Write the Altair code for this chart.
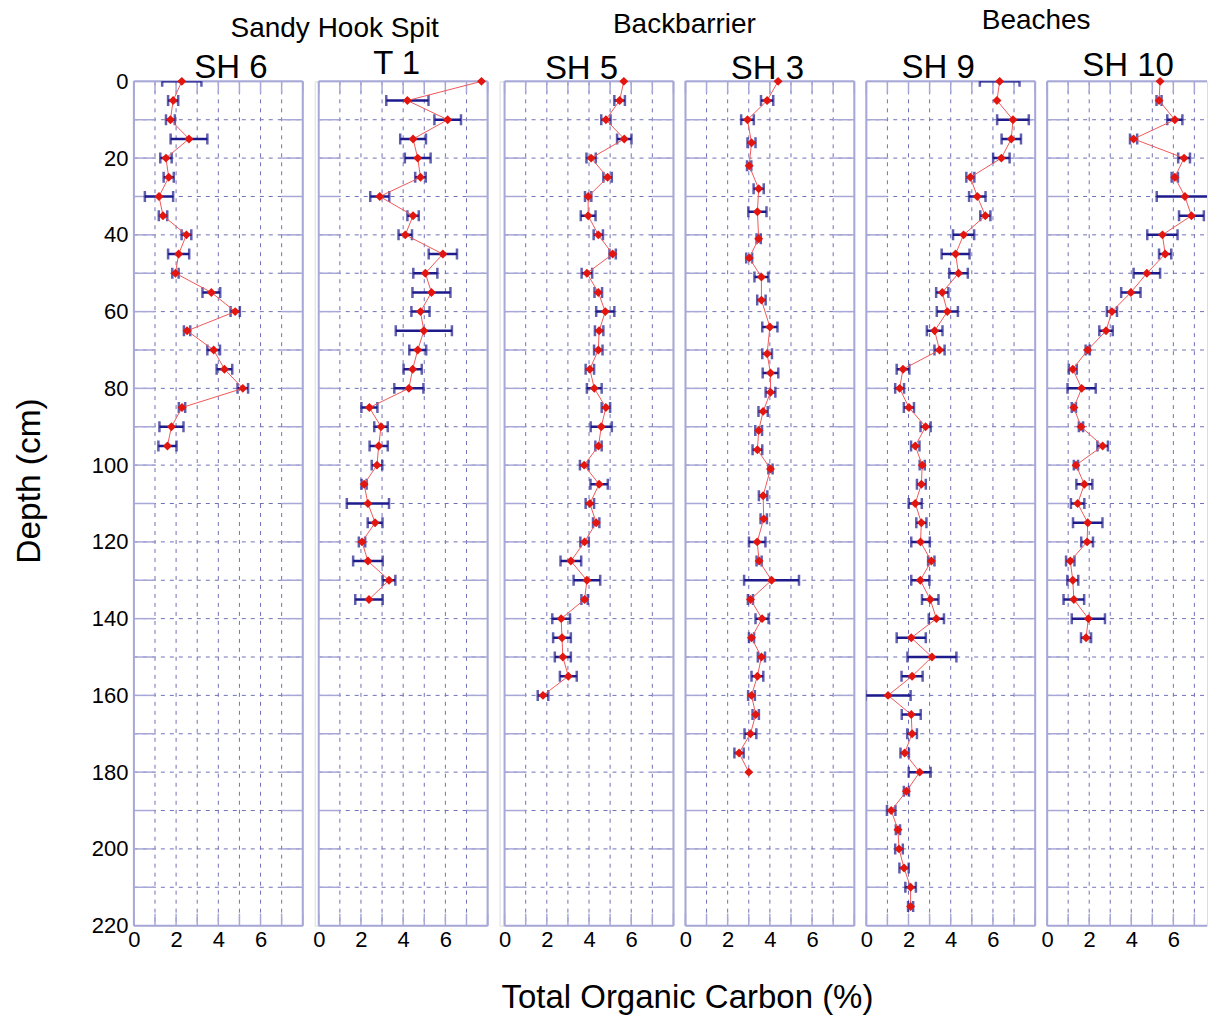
import altair as alt
import pandas as pd

# ---- Total organic carbon (%) down each core, with +/- spread -------------
sh6_depth = list(range(0, 100, 5))
sh6_toc = [2.27, 1.86, 1.73, 2.61, 1.52, 1.65, 1.19, 1.38, 2.49, 2.12,
           1.97, 3.67, 4.80, 2.52, 3.78, 4.29, 5.16, 2.28, 1.78, 1.59]
sh6_err = [0.93, 0.24, 0.21, 0.87, 0.27, 0.24, 0.67, 0.20, 0.23, 0.50,
           0.15, 0.42, 0.22, 0.15, 0.30, 0.37, 0.25, 0.15, 0.57, 0.43]

t1_depth = list(range(0, 140, 5))
t1_toc = [7.71, 4.20, 6.11, 4.47, 4.69, 4.82, 2.89, 4.47, 4.10, 5.88,
          5.05, 5.34, 4.82, 4.98, 4.69, 4.45, 4.27, 2.40, 2.95, 2.84,
          2.76, 2.15, 2.33, 2.67, 2.05, 2.33, 3.33, 2.38]
t1_err = [0.00, 1.00, 0.63, 0.61, 0.61, 0.25, 0.45, 0.27, 0.32, 0.67,
          0.57, 0.90, 0.43, 1.33, 0.40, 0.43, 0.69, 0.38, 0.32, 0.43,
          0.25, 0.12, 1.00, 0.35, 0.15, 0.70, 0.30, 0.65]

sh5_depth = list(range(0, 165, 5))
sh5_toc = [5.65, 5.45, 4.80, 5.67, 4.10, 4.88, 3.96, 3.96, 4.44, 5.12,
           3.90, 4.44, 4.77, 4.48, 4.44, 4.04, 4.25, 4.80, 4.58, 4.45,
           3.77, 4.48, 4.04, 4.34, 3.79, 3.14, 3.90, 3.79, 2.68, 2.72,
           2.76, 3.02, 1.82]
sh5_err = [0.00, 0.25, 0.22, 0.34, 0.22, 0.20, 0.15, 0.35, 0.22, 0.15,
           0.25, 0.18, 0.43, 0.20, 0.20, 0.20, 0.35, 0.20, 0.50, 0.15,
           0.20, 0.41, 0.20, 0.15, 0.20, 0.49, 0.63, 0.15, 0.42, 0.42,
           0.38, 0.40, 0.25]

sh3_depth = [0, 5, 10, 16, 22, 28, 34, 41, 46, 51, 57, 64, 71, 76, 81, 86, 91,
             96, 101, 108, 114, 120, 125, 130, 135, 140, 145, 150, 155, 160,
             165, 170, 175, 180]
sh3_toc = [4.39, 3.87, 2.94, 3.13, 3.02, 3.47, 3.41, 3.47, 3.02, 3.60,
           3.60, 4.00, 3.87, 4.03, 4.03, 3.68, 3.47, 3.41, 4.03, 3.68,
           3.71, 3.40, 3.49, 4.08, 3.08, 3.63, 3.13, 3.60, 3.41, 3.13,
           3.33, 3.08, 2.54, 3.00]
sh3_err = [0.00, 0.29, 0.30, 0.19, 0.10, 0.24, 0.43, 0.10, 0.14, 0.33,
           0.20, 0.36, 0.23, 0.37, 0.23, 0.22, 0.16, 0.23, 0.10, 0.20,
           0.15, 0.39, 0.12, 1.30, 0.12, 0.31, 0.12, 0.17, 0.28, 0.16,
           0.15, 0.28, 0.22, 0.00]

sh9_depth = list(range(0, 220, 5))
sh9_toc = [6.32, 6.19, 6.95, 6.87, 6.40, 4.93, 5.26, 5.64, 4.61, 4.23,
           4.37, 3.60, 3.84, 3.24, 3.47, 1.74, 1.58, 2.02, 2.81, 2.32,
           2.65, 2.61, 2.32, 2.61, 2.57, 3.08, 2.56, 3.03, 3.32, 2.13,
           3.11, 2.17, 1.03, 2.13, 2.17, 1.82, 2.53, 1.90, 1.18, 1.50,
           1.55, 1.79, 2.10, 2.10]
sh9_err = [0.94, 0.00, 0.75, 0.46, 0.39, 0.19, 0.39, 0.24, 0.50, 0.66,
           0.44, 0.29, 0.50, 0.37, 0.24, 0.30, 0.21, 0.24, 0.24, 0.20,
           0.12, 0.21, 0.31, 0.24, 0.44, 0.15, 0.43, 0.39, 0.36, 0.69,
           1.16, 0.50, 1.07, 0.45, 0.23, 0.20, 0.52, 0.12, 0.20, 0.10,
           0.18, 0.22, 0.25, 0.12]

sh10_depth = list(range(0, 150, 5))
sh10_toc = [5.37, 5.32, 6.07, 4.11, 6.51, 6.07, 6.55, 6.86, 5.48, 5.61,
            4.74, 3.98, 3.08, 2.80, 1.93, 1.22, 1.64, 1.27, 1.61, 2.64,
            1.37, 1.77, 1.45, 1.93, 1.90, 1.10, 1.22, 1.27, 1.96, 1.85]
sh10_err = [0.00, 0.12, 0.36, 0.17, 0.28, 0.15, 1.34, 0.59, 0.72, 0.29,
            0.63, 0.46, 0.24, 0.32, 0.10, 0.19, 0.67, 0.10, 0.10, 0.25,
            0.10, 0.38, 0.32, 0.70, 0.28, 0.20, 0.26, 0.49, 0.79, 0.24]

group_names = ["Sandy Hook Spit", "Backbarrier", "Beaches"]
y_title = "Depth (cm)"
x_title = "Total Organic Carbon (%)"

# ---- styling -------------------------------------------------------------
FONT = "Liberation Sans"
PW, H = 169, 845          # plot width / height of one core panel
FRAME = "#a8a8d8"
GRID = "#7070b8"
BAR = "#1d1a8c"
RED = "#e3150f"
LINE = "#f05858"
YMAX = 220
TICK_IN = 21   # inward tick length along the depth axis
TICK_UP = 12   # inward tick length along the carbon axis
ONE = pd.DataFrame({"k": [0]})


def frame_rule(**enc):
    return alt.Chart(ONE).mark_rule(color=FRAME, strokeWidth=2).encode(**enc)


def label(text, px, py, size, angle=0):
    return alt.Chart(pd.DataFrame({"t": [text]})).mark_text(
        font=FONT, fontSize=size, color="black", angle=angle,
        align="center", baseline="alphabetic" if angle == 0 else "middle").encode(
        text="t:N", x=alt.value(px), y=alt.value(py))


def core_panel(name, depth, toc, err, xmax=8.0, pw=PW, off=0, first=False,
               name_x=84, name_y=-3, right_edge=True, extras=()):
    df = pd.DataFrame({"depth": depth, "toc": toc, "err": err})
    df["lo"] = df["toc"] - df["err"]
    df["hi"] = df["toc"] + df["err"]
    x0, x1 = off, off + pw

    xscale = alt.Scale(domain=[0, xmax], range=[x0, x1], nice=False, zero=False)
    yscale = alt.Scale(domain=[0, YMAX], reverse=True, nice=False, zero=False)
    xvals = list(range(0, int(xmax) + 1))
    xaxis = alt.Axis(values=xvals, title=None, ticks=False, domain=False,
                     grid=False,
                     labelExpr="datum.value % 2 == 0 && datum.value < 8 ? datum.label : ''",
                     labelFlush=False, labelOverlap=False, labelFont=FONT,
                     labelFontSize=22, labelColor="black", labelPadding=4)
    yaxis = alt.Axis(values=list(range(0, YMAX + 1, 20)), title=None,
                     ticks=False, domain=False, grid=False, labels=first,
                     labelOverlap=False, labelFont=FONT, labelFontSize=22,
                     labelColor="black", labelPadding=6)

    base = alt.Chart(df)
    Y = alt.Y("depth:Q", scale=yscale, axis=yaxis)

    def X(field):
        return alt.X(field, scale=xscale, axis=xaxis)

    bars = base.transform_filter("datum.err > 0").mark_rule(
        color=BAR, strokeWidth=2.5, clip=True).encode(
        x=X("lo:Q"), x2="hi:Q", y=Y)
    caps = base.transform_filter("datum.err > 0").transform_fold(
        ["lo", "hi"], as_=["side", "xv"]).mark_tick(
        orient="vertical", color=BAR, thickness=2.5, size=11, clip=True).encode(
        x=X("xv:Q"), y=Y)
    line = base.mark_line(color=LINE, strokeWidth=1).encode(
        x=X("toc:Q"), y=Y, order="depth:Q")
    pts = base.mark_point(shape="diamond", filled=True, color=RED, size=80,
                          opacity=1).encode(x=X("toc:Q"), y=Y)

    # dashed grid and inward tick marks
    ydf = pd.DataFrame({"depth": list(range(10, YMAX, 10))})
    xdf = pd.DataFrame({"xv": [v for v in xvals if 0 < v < xmax]})
    xall = pd.DataFrame({"xv": xvals})
    hgrid = alt.Chart(ydf).mark_rule(color=GRID, strokeWidth=1,
                                     strokeDash=[4, 5]).encode(
        y=Y, x=alt.value(x0), x2=alt.value(x1))
    vgrid = alt.Chart(xdf).mark_rule(color=GRID, strokeWidth=1,
                                     strokeDash=[4, 5]).encode(
        x=X("xv:Q"), y=alt.value(0), y2=alt.value(H))
    yt_left = alt.Chart(ydf).mark_rule(color=FRAME, strokeWidth=1.5).encode(
        y=Y, x=alt.value(x0), x2=alt.value(x0 + TICK_IN))
    yt_right = alt.Chart(ydf).mark_rule(color=FRAME, strokeWidth=1.5).encode(
        y=Y, x=alt.value(x1 - TICK_IN), x2=alt.value(x1))
    xt_bot = alt.Chart(xall).mark_rule(color=FRAME, strokeWidth=1.5).encode(
        x=X("xv:Q"), y=alt.value(H - TICK_UP), y2=alt.value(H))
    xt_top = alt.Chart(xall).mark_rule(color=FRAME, strokeWidth=1.5).encode(
        x=X("xv:Q"), y=alt.value(0), y2=alt.value(TICK_UP))

    layers = [hgrid, vgrid, yt_left, xt_bot, xt_top,
              frame_rule(x=alt.value(x0), y=alt.value(0), y2=alt.value(H)),
              frame_rule(x=alt.value(x0), x2=alt.value(x1), y=alt.value(0)),
              frame_rule(x=alt.value(x0), x2=alt.value(x1), y=alt.value(H))]
    if right_edge:
        layers += [yt_right,
                   frame_rule(x=alt.value(x1), y=alt.value(0), y2=alt.value(H))]
    layers += [bars, caps, line, pts]
    # core name above the panel
    layers.append(label(name, x0 + name_x, name_y, 33))
    layers += list(extras)

    return alt.layer(*layers).properties(width=x1, height=H)


# free-standing titles, positioned relative to the first panel
annotations = [
    label(group_names[0], 201, -44, 28),
    label(group_names[1], 551, -48, 28),
    label(group_names[2], 903, -52, 28),
    label(y_title, -104, 400, 33.5, angle=270),
    label(x_title, 554, 927, 33),
]

p_sh6 = core_panel("SH 6", sh6_depth, sh6_toc, sh6_err, first=True,
                   name_x=97, name_y=-3, extras=annotations)
p_t1 = core_panel("T 1", t1_depth, t1_toc, t1_err, off=4,
                  name_x=78, name_y=-7)
p_sh5 = core_panel("SH 5", sh5_depth, sh5_toc, sh5_err, off=5,
                   name_x=77, name_y=-2)
p_sh3 = core_panel("SH 3", sh3_depth, sh3_toc, sh3_err, name_x=82, name_y=-2)
p_sh9 = core_panel("SH 9", sh9_depth, sh9_toc, sh9_err, name_x=72, name_y=-3)
p_sh10 = core_panel("SH 10", sh10_depth, sh10_toc, sh10_err, xmax=7.6,
                    pw=160, name_x=81, name_y=-5, right_edge=False)

chart = alt.hconcat(p_sh6, p_t1, p_sh5, p_sh3, p_sh9, p_sh10,
                    spacing=12, bounds="flush").properties(
    padding={"left": 12, "top": 6, "right": 0, "bottom": 0},
    background="white",
).configure_view(strokeOpacity=0).configure(font=FONT)

chart.save("out.html", embed_options={"renderer": "svg", "actions": False})
